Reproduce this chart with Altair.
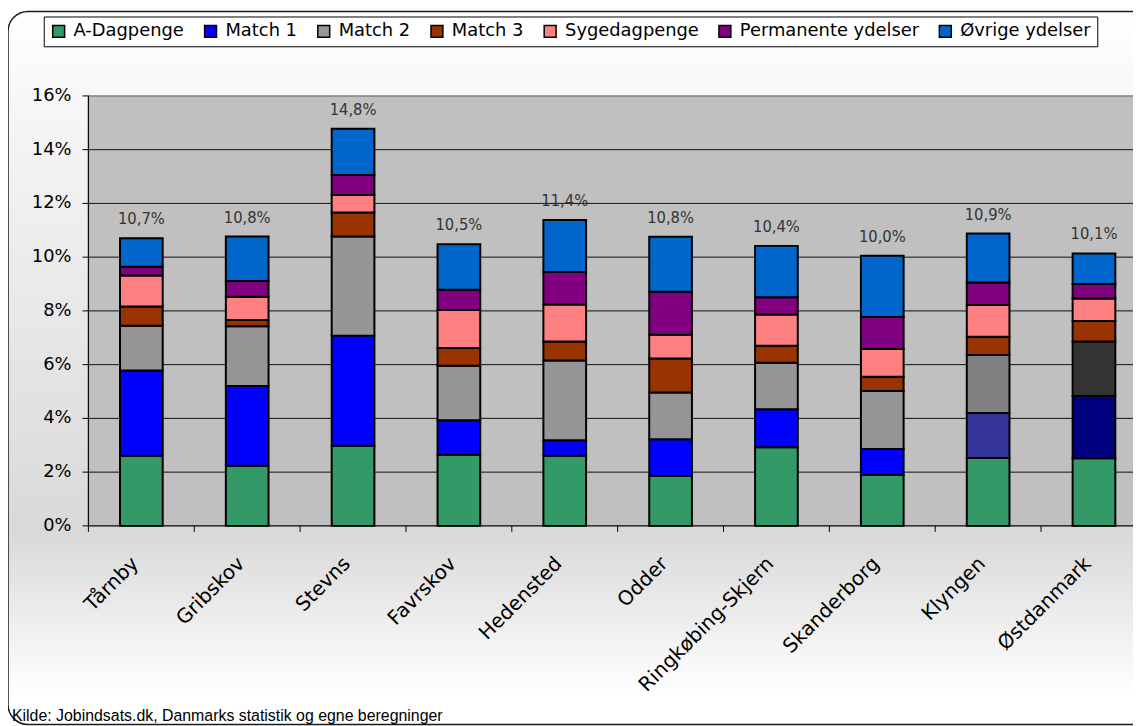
import altair as alt
import pandas as pd

# ---------------- data ----------------
categories = ["Tårnby", "Gribskov", "Stevns", "Favrskov", "Hedensted", "Odder",
              "Ringkøbing-Skjern", "Skanderborg", "Klyngen", "Østdanmark"]
series = ["A-Dagpenge", "Match 1", "Match 2", "Match 3", "Sygedagpenge",
          "Permanente ydelser", "Øvrige ydelser"]

a_dagpenge = [2.61, 2.24, 2.98, 2.65, 2.61, 1.86, 2.93, 1.89, 2.53, 2.52]
match_1 = [3.17, 2.97, 4.10, 1.28, 0.58, 1.36, 1.41, 0.97, 1.67, 2.31]
match_2 = [1.67, 2.22, 3.69, 2.03, 2.96, 1.74, 1.73, 2.16, 2.16, 2.03]
match_3 = [0.71, 0.23, 0.89, 0.66, 0.71, 1.27, 0.63, 0.53, 0.68, 0.76]
sygedagpenge = [1.16, 0.87, 0.65, 1.41, 1.38, 0.88, 1.17, 1.03, 1.18, 0.84]
permanente = [0.32, 0.58, 0.75, 0.76, 1.21, 1.60, 0.64, 1.19, 0.84, 0.54]
oevrige = [1.06, 1.66, 1.72, 1.69, 1.93, 2.05, 1.91, 2.28, 1.82, 1.14]

total_labels = ["10,7%", "10,8%", "14,8%", "10,5%", "11,4%", "10,8%",
                "10,4%", "10,0%", "10,9%", "10,1%"]

series_colors = ["#339966", "#0000FF", "#969696", "#993300", "#FF8080",
                 "#800080", "#0066CC"]
special_groups = ["Klyngen", "Østdanmark"]
special_series = ["Match 1", "Match 2"]
special_colors = {"Klyngen": ["#333399", "#808080"],
                  "Østdanmark": ["#000080", "#333333"]}

y_ticks = [0, 2, 4, 6, 8, 10, 12, 14, 16]
y_tick_labels = ["0%", "2%", "4%", "6%", "8%", "10%", "12%", "14%", "16%"]
grid_levels = [2, 4, 6, 8, 10, 12, 14]
footer = "Kilde: Jobindsats.dk, Danmarks statistik og egne beregninger"

# ---------------- tables ----------------
all_values = [a_dagpenge, match_1, match_2, match_3, sygedagpenge, permanente, oevrige]
rows = []
for s_idx, (s, vals) in enumerate(zip(series, all_values)):
    for c, v in zip(categories, vals):
        key = s
        if c in special_groups and s in special_series:
            key = f"{s} ({c})"
        rows.append(dict(kategori=c, serie=s, key=key, idx=s_idx, value=v))
df = pd.DataFrame(rows)

tot = df.groupby("kategori", sort=False)["value"].sum().reset_index()
tot["label"] = total_labels

color_domain = list(series)
color_range = list(series_colors)
for g in special_groups:
    for s, col in zip(special_series, special_colors[g]):
        color_domain.append(f"{s} ({g})")
        color_range.append(col)

cat_df = pd.DataFrame({"kategori": categories})
ytick_df = pd.DataFrame({"v": y_ticks, "lab": y_tick_labels})

# ---------------- layout ----------------
W, H = 1052, 433
BAND_RANGE = 1066
FONT = "DejaVu Sans"

x_scale = alt.Scale(domain=categories, range=[0, BAND_RANGE], paddingInner=0, paddingOuter=0)
y_scale = alt.Scale(domain=[0, 16], nice=False)

one = pd.DataFrame({"d": [0]})

frame = alt.Chart(one).mark_rect(
    cornerRadius=20, stroke="#1a1a1a", strokeWidth=1.5,
    fill=alt.LinearGradient(
        gradient="linear", x1=0, x2=0, y1=0, y2=1,
        stops=[alt.GradientStop(color="#ffffff", offset=0),
               alt.GradientStop(color="#f7f7f7", offset=0.12),
               alt.GradientStop(color="#d9d9d9", offset=0.73),
               alt.GradientStop(color="#ffffff", offset=0.96),
               alt.GradientStop(color="#ffffff", offset=1)])
).encode(x=alt.value(-81), x2=alt.value(1075), y=alt.value(-85), y2=alt.value(633))

plot_bg = alt.Chart(one).mark_rect(
    fill="#c0c0c0", stroke="#808080", strokeWidth=1.5
).encode(x=alt.value(0), x2=alt.value(1090), y=alt.value(0), y2=alt.value(H))

grid = alt.Chart(pd.DataFrame({"g": grid_levels})).mark_rule(
    color="#111111", strokeWidth=1
).encode(y=alt.Y("g:Q", scale=y_scale, axis=None))

bars = alt.Chart(df).mark_bar(size=43, stroke="black", strokeWidth=2).encode(
    x=alt.X("kategori:N", scale=x_scale, axis=None),
    y=alt.Y("value:Q", stack="zero", scale=y_scale, axis=None),
    color=alt.Color("key:N", scale=alt.Scale(domain=color_domain, range=color_range),
                    legend=alt.Legend(values=series, title=None, orient="none",
                                      legendX=-45, legendY=-80, direction="horizontal",
                                      columns=7, fillColor="white", strokeColor="black",
                                      padding=6, labelFont=FONT, labelFontSize=18,
                                      labelColor="black", labelLimit=0,
                                      symbolType="square", symbolSize=144,
                                      symbolStrokeColor="black", symbolStrokeWidth=1.5,
                                      columnPadding=17, labelOffset=6)),
    order=alt.Order("idx:Q", sort="ascending"),
)

labels = alt.Chart(tot).mark_text(
    baseline="bottom", dy=-11, font="DejaVu Sans Condensed, DejaVu Sans, sans-serif",
    fontSize=16.5, color="#333333"
).encode(
    x=alt.X("kategori:N", scale=x_scale, axis=None),
    y=alt.Y("value:Q", scale=y_scale, axis=None),
    text="label:N",
)

# ---- axes drawn with the shared scales ----
y_domain = alt.Chart(one).mark_rule(color="black", strokeWidth=1).encode(
    x=alt.value(0), y=alt.value(0), y2=alt.value(H))
x_domain = alt.Chart(one).mark_rule(color="black", strokeWidth=1).encode(
    x=alt.value(0), x2=alt.value(1090), y=alt.value(H))

y_tick_marks = alt.Chart(ytick_df).mark_rule(color="black", strokeWidth=1).encode(
    x=alt.value(-6), x2=alt.value(0),
    y=alt.Y("v:Q", scale=y_scale, axis=None))
y_tick_text = alt.Chart(ytick_df).mark_text(
    align="right", baseline="middle", font=FONT, fontSize=18, color="black"
).encode(x=alt.value(-17), y=alt.Y("v:Q", scale=y_scale, axis=None), text="lab:N")

x_tick_marks = alt.Chart(cat_df).mark_rule(color="black", strokeWidth=1).encode(
    x=alt.X("kategori:N", scale=x_scale, axis=None, bandPosition=0),
    y=alt.value(H), y2=alt.value(H + 6))
x_tick_text = alt.Chart(cat_df).mark_text(
    align="right", baseline="middle", angle=315, dx=-8.5,
    font=FONT, fontSize=20, color="black"
).encode(x=alt.X("kategori:N", scale=x_scale, axis=None),
         y=alt.value(H + 29), text="kategori:N")

foot = alt.Chart(pd.DataFrame({"t": [footer]})).mark_text(
    align="left", baseline="alphabetic", font="Liberation Sans", fontSize=16, color="black"
).encode(text="t:N", x=alt.value(-77), y=alt.value(630))

chart = alt.layer(
    frame, plot_bg, grid, bars, labels,
    y_domain, x_domain, y_tick_marks, y_tick_text, x_tick_marks, x_tick_text, foot
).properties(
    width=W, height=H,
    autosize=alt.AutoSizeParams(type="none"),
    padding={"left": 81, "top": 86, "right": 0, "bottom": 199},
    background="white",
).configure_view(stroke=None)

chart.save("out.html", embed_options={"renderer": "svg", "actions": False})
